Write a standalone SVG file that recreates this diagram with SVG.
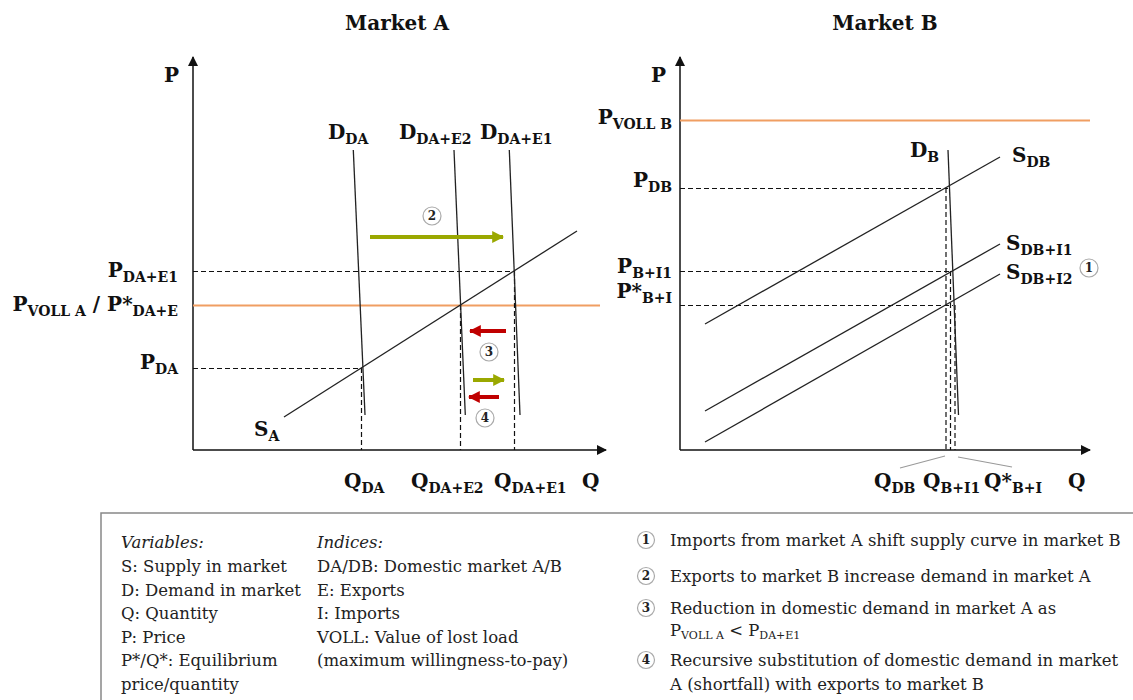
<svg xmlns="http://www.w3.org/2000/svg" width="1133" height="700" viewBox="0 0 1133 700">
<defs>
<style>
.t{font-family:"DejaVu Serif","Liberation Serif",serif;fill:#111}
.ttl{font-size:20px;font-weight:bold}
.lbl{font-size:20px;font-weight:bold}
.sub{font-size:14px;font-weight:bold}
.ax{stroke:#111;stroke-width:1.5;fill:none}
.cv{stroke:#222;stroke-width:1.3;fill:none}
.ds{stroke:#111;stroke-width:1.2;stroke-dasharray:5 3;fill:none}
.or{stroke:#f09e62;stroke-width:1.8;fill:none}
.ld{stroke:#999;stroke-width:1.2;fill:none}
.gr{stroke:#9aa800;stroke-width:4;fill:none}
.rd{stroke:#c00000;stroke-width:4;fill:none}
.cc{fill:#fff;stroke:#aaa;stroke-width:1.2}
.cn{font-family:"DejaVu Serif",serif;font-size:12px;font-weight:bold;fill:#222;text-anchor:middle}
.lg{font-family:"DejaVu Serif","Liberation Serif",serif;font-size:16.5px;fill:#222}
.lgs{font-family:"DejaVu Serif","Liberation Serif",serif;font-size:11px;fill:#222}
</style>
<marker id="ah" viewBox="0 0 10 10" refX="9" refY="5" markerWidth="10" markerHeight="10" markerUnits="userSpaceOnUse" orient="auto"><path d="M0,0 L10,5 L0,10 Z" fill="#111"/></marker>
<marker id="ahg" viewBox="0 0 10 10" refX="9" refY="5" markerWidth="3" markerHeight="3" orient="auto"><path d="M0,0 L10,5 L0,10 Z" fill="#9aa800"/></marker>
<marker id="ahr" viewBox="0 0 10 10" refX="9" refY="5" markerWidth="3" markerHeight="3" orient="auto"><path d="M0,0 L10,5 L0,10 Z" fill="#c00000"/></marker>
</defs>
<rect width="1133" height="700" fill="#fff"/>

<!-- Titles -->
<text id="titleA" class="t ttl" x="397" y="30" text-anchor="middle">Market A</text>
<text id="titleB" class="t ttl" x="885" y="30" text-anchor="middle">Market B</text>

<!-- Connectors / lines -->
<g id="connectors">
  <!-- Market A axes -->
  <line class="ax" x1="193" y1="450" x2="193" y2="57" marker-end="url(#ah)"/>
  <line class="ax" x1="193" y1="450" x2="606" y2="450" marker-end="url(#ah)"/>
  <!-- Market A reference lines -->
  <line class="or" x1="193" y1="305.5" x2="600" y2="305.5"/>
  <line class="ds" x1="193" y1="271.5" x2="514" y2="271.5"/>
  <line class="ds" x1="193" y1="368.5" x2="361" y2="368.5"/>
  <line class="ds" x1="361.5" y1="368" x2="361.5" y2="450"/>
  <line class="ds" x1="460.5" y1="305" x2="460.5" y2="450"/>
  <line class="ds" x1="514.5" y1="271" x2="514.5" y2="450"/>
  <!-- Market A curves -->
  <line class="cv" x1="284" y1="417" x2="577" y2="231"/>
  <line class="cv" x1="353.3" y1="150" x2="365" y2="415"/>
  <line class="cv" x1="454" y1="150" x2="465.3" y2="415"/>
  <line class="cv" x1="509.3" y1="150" x2="520" y2="415"/>
  <!-- Market A shift arrows -->
  <line class="gr" x1="370" y1="237" x2="503" y2="237" marker-end="url(#ahg)"/>
  <line class="rd" x1="506" y1="331" x2="470" y2="331" marker-end="url(#ahr)"/>
  <line class="gr" x1="473" y1="380" x2="504" y2="380" marker-end="url(#ahg)"/>
  <line class="rd" x1="499" y1="397" x2="469" y2="397" marker-end="url(#ahr)"/>

  <!-- Market B axes -->
  <line class="ax" x1="680" y1="450" x2="680" y2="57" marker-end="url(#ah)"/>
  <line class="ax" x1="680" y1="450" x2="1090" y2="450" marker-end="url(#ah)"/>
  <!-- Market B reference lines -->
  <line class="or" x1="680" y1="120.5" x2="1090" y2="120.5"/>
  <line class="ds" x1="680" y1="188.5" x2="948" y2="188.5"/>
  <line class="ds" x1="680" y1="271.5" x2="951" y2="271.5"/>
  <line class="ds" x1="680" y1="305.5" x2="953" y2="305.5"/>
  <line class="ds" x1="946" y1="188" x2="946" y2="450"/>
  <line class="ds" x1="950.5" y1="271" x2="950.5" y2="450"/>
  <line class="ds" x1="955" y1="305" x2="955" y2="450"/>
  <!-- Market B curves -->
  <line class="cv" x1="705" y1="324" x2="1000" y2="157"/>
  <line class="cv" x1="705" y1="411" x2="1000" y2="244"/>
  <line class="cv" x1="705" y1="442" x2="1000" y2="274"/>
  <line class="cv" x1="948" y1="150" x2="958.5" y2="415"/>
  <!-- Leader lines -->
  <line class="ld" x1="945" y1="456" x2="900" y2="468"/>
  <line class="ld" x1="958" y1="457" x2="1012" y2="467"/>
</g>

<!-- Market A labels -->
<g id="marketA-labels">
  <text class="t lbl" x="164" y="82">P</text>
  <text class="t lbl" x="582" y="488">Q</text>
  <text class="t lbl" x="178" y="277" text-anchor="end">P<tspan class="sub" dy="5">DA+E1</tspan></text>
  <text class="t lbl" x="178" y="311" text-anchor="end">P<tspan class="sub" dy="5">VOLL A</tspan><tspan dy="-5"> / P*</tspan><tspan class="sub" dy="5">DA+E</tspan></text>
  <text class="t lbl" x="178" y="369" text-anchor="end">P<tspan class="sub" dy="5">DA</tspan></text>
  <text class="t lbl" x="328" y="139">D<tspan class="sub" dy="5">DA</tspan></text>
  <text class="t lbl" x="399" y="139">D<tspan class="sub" dy="5">DA+E2</tspan></text>
  <text class="t lbl" x="480" y="139">D<tspan class="sub" dy="5">DA+E1</tspan></text>
  <text class="t lbl" x="254" y="436">S<tspan class="sub" dy="5">A</tspan></text>
  <text class="t lbl" x="344" y="488">Q<tspan class="sub" dy="5">DA</tspan></text>
  <text class="t lbl" x="411" y="488">Q<tspan class="sub" dy="5">DA+E2</tspan></text>
  <text class="t lbl" x="494" y="488">Q<tspan class="sub" dy="5">DA+E1</tspan></text>
</g>
<g id="markerA-2"><circle class="cc" cx="432" cy="216" r="9"/><text class="cn" x="432" y="220">2</text></g>
<g id="markerA-3"><circle class="cc" cx="489" cy="352" r="9"/><text class="cn" x="489" y="356">3</text></g>
<g id="markerA-4"><circle class="cc" cx="485" cy="418" r="9"/><text class="cn" x="485" y="422">4</text></g>

<!-- Market B labels -->
<g id="marketB-labels">
  <text class="t lbl" x="651" y="82">P</text>
  <text class="t lbl" x="1068" y="488">Q</text>
  <text class="t lbl" x="672" y="124" text-anchor="end">P<tspan class="sub" dy="5">VOLL B</tspan></text>
  <text class="t lbl" x="672" y="187" text-anchor="end">P<tspan class="sub" dy="5">DB</tspan></text>
  <text class="t lbl" x="672" y="273" text-anchor="end">P<tspan class="sub" dy="5">B+I1</tspan></text>
  <text class="t lbl" x="672" y="298" text-anchor="end">P*<tspan class="sub" dy="5">B+I</tspan></text>
  <text class="t lbl" x="910" y="157">D<tspan class="sub" dy="5">B</tspan></text>
  <text class="t lbl" x="1012" y="162">S<tspan class="sub" dy="5">DB</tspan></text>
  <text class="t lbl" x="1006" y="250">S<tspan class="sub" dy="5">DB+I1</tspan></text>
  <text class="t lbl" x="1006" y="279">S<tspan class="sub" dy="5">DB+I2</tspan></text>
  <text class="t lbl" x="874" y="488">Q<tspan class="sub" dy="5">DB</tspan></text>
  <text class="t lbl" x="923" y="488">Q<tspan class="sub" dy="5">B+I1</tspan></text>
  <text class="t lbl" x="984" y="488">Q*<tspan class="sub" dy="5">B+I</tspan></text>
</g>
<g id="markerB-1"><circle class="cc" cx="1089" cy="268" r="9"/><text class="cn" x="1089" y="272">1</text></g>

<!-- Legend -->
<g id="legend">
  <rect x="101" y="513" width="1060" height="200" fill="none" stroke="#888" stroke-width="1.5"/>
  <text class="lg" x="121" y="548" font-style="italic">Variables:</text>
  <text class="lg" x="121" y="572">S: Supply in market</text>
  <text class="lg" x="121" y="596">D: Demand in market</text>
  <text class="lg" x="121" y="619">Q: Quantity</text>
  <text class="lg" x="121" y="643">P: Price</text>
  <text class="lg" x="121" y="666">P*/Q*: Equilibrium</text>
  <text class="lg" x="121" y="690">price/quantity</text>
  <text class="lg" x="317" y="548" font-style="italic">Indices:</text>
  <text class="lg" x="317" y="572">DA/DB: Domestic market A/B</text>
  <text class="lg" x="317" y="596">E: Exports</text>
  <text class="lg" x="317" y="619">I: Imports</text>
  <text class="lg" x="317" y="643">VOLL: Value of lost load</text>
  <text class="lg" x="317" y="666">(maximum willingness-to-pay)</text>

  <g id="legend-1"><circle class="cc" cx="646" cy="540" r="8.5" stroke="#777"/><text class="cn" x="646" y="544" font-size="11">1</text></g>
  <text class="lg" x="670" y="546">Imports from market A shift supply curve in market B</text>
  <g id="legend-2"><circle class="cc" cx="646" cy="576" r="8.5" stroke="#777"/><text class="cn" x="646" y="580" font-size="11">2</text></g>
  <text class="lg" x="670" y="582">Exports to market B increase demand in market A</text>
  <g id="legend-3"><circle class="cc" cx="646" cy="608" r="8.5" stroke="#777"/><text class="cn" x="646" y="612" font-size="11">3</text></g>
  <text class="lg" x="670" y="614">Reduction in domestic demand in market A as</text>
  <text class="lg" x="670" y="636" font-size="14">P<tspan class="lgs" dy="3">VOLL A</tspan><tspan dy="-3"> &lt; P</tspan><tspan class="lgs" dy="3">DA+E1</tspan></text>
  <g id="legend-4"><circle class="cc" cx="646" cy="660" r="8.5" stroke="#777"/><text class="cn" x="646" y="664" font-size="11">4</text></g>
  <text class="lg" x="670" y="666">Recursive substitution of domestic demand in market</text>
  <text class="lg" x="670" y="690">A (shortfall) with exports to market B</text>
</g>
</svg>
